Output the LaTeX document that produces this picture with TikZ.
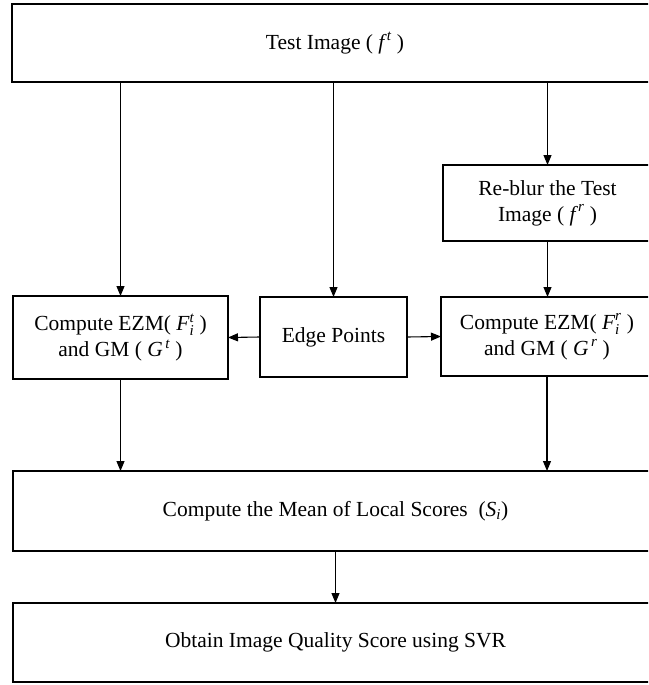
\documentclass[tikz,border=0pt]{standalone}
\usepackage{amsmath}
\usepackage{fontspec}
\setmainfont{Liberation Serif}
\usetikzlibrary{arrows.meta}

\newcommand{\vi}[1]{\textit{#1}}

\tikzset{
  block/.style={draw, line width=1.6pt, inner sep=0pt, outer sep=0pt,
    anchor=north west, align=center, font=\fontsize{21.5}{26}\selectfont},
  arr/.style={-{Triangle[length=10pt,width=8pt]}, line width=1.1pt}
}

\begin{document}
\begin{tikzpicture}[x=1pt,y=-1pt]
    \useasboundingbox (0,0) rectangle (648,685);
    \clip (0,0) rectangle (648,685);

    % Input
    \node[block, line width=2.4pt, minimum width=646pt, minimum height=78pt] (test) at (12,4) {Test Image ( $\vi{f}^{\,\vi{t}}$ )};

    % Re-blurred image
    \node[block, line width=2pt, minimum width=209pt, minimum height=76pt] (reblur) at (443,165) {Re-blur the Test\\Image ( $\vi{f}^{\,\vi{r}}$ )};

    % Middle row
    \node[block, line width=2pt, minimum width=215pt, minimum height=83pt] (ezmt) at (13,296) {Compute EZM( $\vi{F}_{\vi{i}}^{\vi{t}}$ )\\and GM ( $\vi{G}^{\,\vi{t}}$ )};
    \node[block, minimum width=147pt, minimum height=80pt] (edge) at (260,297) {Edge Points};
    \node[block, line width=2pt, minimum width=212pt, minimum height=79pt] (ezmr) at (441,297) {Compute EZM( $\vi{F}_{\vi{i}}^{\vi{r}}$ )\\and GM ( $\vi{G}^{\,\vi{r}}$ )};

    % Scores
    \node[block, minimum width=645pt, minimum height=80pt] (mean) at (13,471) {Compute the Mean of Local Scores\ \ ($\vi{S}_{\vi{i}}$)};
    \node[block, minimum width=645pt, minimum height=79pt] (svr) at (13,603) {Obtain Image Quality Score using SVR};

    % Arrows
    \draw[arr] (ezmt.north |- test.south) -- (ezmt.north);
    \draw[arr] (edge.north |- test.south) -- (edge.north);
    \draw[arr] (reblur.north |- test.south) -- (reblur.north);
    \draw[arr] (reblur.south) -- (ezmr.north -| reblur.south);
    \draw[arr] (edge.west) -- (ezmt.east);
    \draw[arr] (edge.east) -- (ezmr.west);
    \draw[arr] (ezmt.south) -- (ezmt.south |- mean.north);
    \draw[arr] (ezmr.south) -- (ezmr.south |- mean.north);
    \draw[arr] (mean.south) -- (mean.south |- svr.north);
\end{tikzpicture}
\end{document}
